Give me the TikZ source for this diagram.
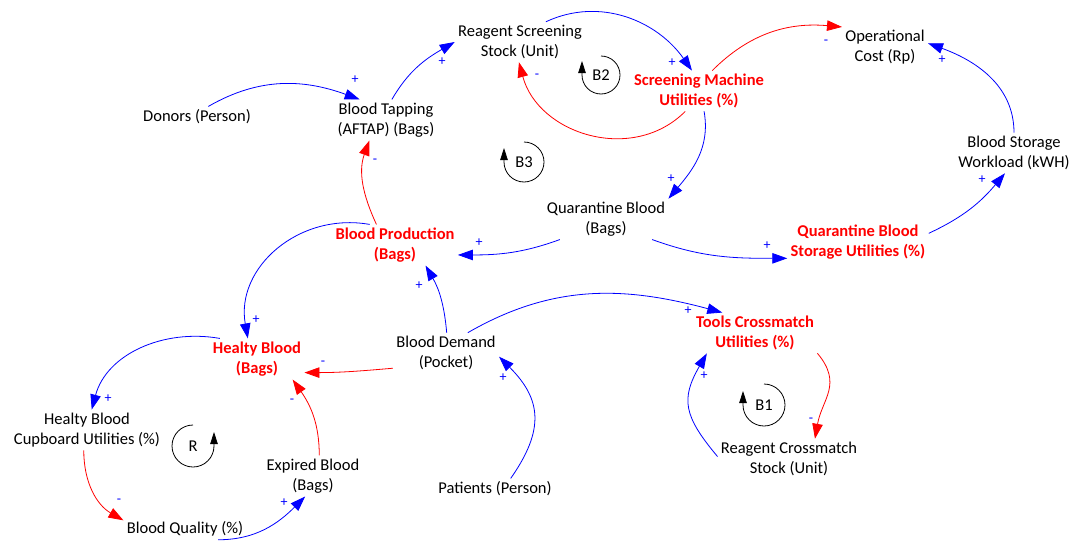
\documentclass[tikz,border=0pt]{standalone}
\usepackage{fontspec}
\setmainfont{Carlito}
\usetikzlibrary{arrows.meta}
\definecolor{cldblue}{RGB}{0,0,255}
\definecolor{cldred}{RGB}{255,0,0}

\begin{document}
\begin{tikzpicture}[x=1pt, y=1pt, line width=0.8pt,
  var/.style={align=center, inner sep=3pt, font=\fontsize{16.5}{20}\selectfont},
  keyvar/.style={var, text=cldred, font=\fontsize{16.5}{20}\selectfont\bfseries},
  lnkp/.style={draw=cldblue, -{Triangle[length=15pt,width=10.5pt]}},
  lnkn/.style={draw=cldred, -{Triangle[length=15pt,width=10.5pt]}},
  sgn/.style={text=cldblue, inner sep=0pt, font=\fontsize{14}{14}\selectfont},
  loopar/.style={draw=black, -{Triangle[length=12pt,width=7.5pt]}}]

\useasboundingbox (0,0) rectangle (1072,-541);

\node[var] (rss) at (520,-42) {Reagent Screening\\Stock (Unit)};
\node[var] (opc) at (885,-47) {Operational\\Cost (Rp)};
\node[keyvar] (sm) at (699,-91) {Screening Machine\\Utilities (\%)};
\node[var] (donor) at (197,-117) {Donors (Person)};
\node[var] (tap) at (386,-120) {Blood Tapping\\(AFTAP) (Bags)};
\node[var] (bsw) at (1014,-153) {Blood Storage\\Workload (kWH)};
\node[var] (qb) at (606,-219) {Quarantine Blood\\(Bags)};
\node[keyvar] (qbsu) at (858,-242) {Quarantine Blood\\Storage Utilities (\%)};
\node[keyvar] (bp) at (395,-245) {Blood Production\\(Bags)};
\node[keyvar] (tcu) at (755,-333) {Tools Crossmatch\\Utilities (\%)};
\node[keyvar] (hb) at (257,-359) {Healty Blood\\(Bags)};
\node[var] (bd) at (446,-353) {Blood Demand\\(Pocket)};
\node[var] (hbc) at (87,-430) {Healty Blood\\Cupboard Utilities (\%)};
\node[var] (rcs) at (789,-459) {Reagent Crossmatch\\Stock (Unit)};
\node[var] (eb) at (313,-476) {Expired Blood\\(Bags)};
\node[var] (pat) at (495,-489) {Patients (Person)};
\node[var] (bq) at (185,-529) {Blood Quality (\%)};

% loops
\node[var] (b2) at (601,-75) {B2};
\draw[loopar] (b2.center) ++(0,19) arc[start angle=90, end angle=-180, radius=19] -- ++(0,14);
\node[var] (b3) at (524,-162) {B3};
\draw[loopar] (b3.center) ++(0,20) arc[start angle=90, end angle=-180, radius=20] -- ++(0,14);
\node[var] (b1) at (764,-405) {B1};
\draw[loopar] (b1.center) ++(0,21) arc[start angle=90, end angle=-180, radius=21] -- ++(0,14);
\node[var] (rl) at (193,-446) {R};
\draw[loopar] (rl.center) ++(0,21) arc[start angle=90, end angle=360, radius=21] -- ++(0,14);

\draw[lnkp] (donor.43) to[out=30, in=160] (tap.142);
\draw[lnkp] (tap.74) to[out=60, in=210] (rss.180);
\draw[lnkp] (rss.38) to[out=25, in=125] (sm.109);
\draw[lnkn] (sm.236) to[out=225, in=285, looseness=1.1] (rss.267);
\draw[lnkn] (sm.57) to[out=45, in=175] (opc.155);
\draw[lnkp] (bsw.90) to[out=90, in=-20] (opc.5);
\draw[lnkp] (qbsu.7) to[out=25, in=230] (bsw.246);
\draw[lnkp] (sm.284) to[out=-80, in=50] (qb.18);
\draw[lnkp] (qb.336) to[out=-20, in=180] (qbsu.193);
\draw[lnkp] (qb.204) to[out=200, in=0] (bp.351);
\draw[lnkn] (bp.132) to[out=115, in=250] (tap.231);
\draw[lnkp] (bp.141) to[out=170, in=100, looseness=1.1] (hb.114);
\draw[lnkp] (bd.88) to[out=95, in=300] (bp.326);
\draw[lnkp] (bd.43) to[out=30, in=165] (tcu.148);
\draw[lnkn] (bd.196) to[out=185, in=0] (hb.344);
\draw[lnkn] (eb.73) to[out=90, in=305] (hb.330);
\draw[lnkp] (hb.151) to[out=170, in=75] (hbc.77);
\draw[lnkn] (hbc.261) to[out=-90, in=150] (bq.172);
\draw[lnkp] (bq.342) to[out=0, in=225] (eb.249);
\draw[lnkp] (pat.34) to[out=55, in=-45, looseness=1.25] (bd.356);
\draw[lnkn] (tcu.342) to[out=-50, in=80, looseness=1.2] (rcs.38);
\draw[lnkp] (rcs.178) to[out=130, in=240, looseness=1.3] (tcu.203);

% polarity
\node[sgn] (s1) at (355,-80) {+};
\node[sgn] (s2) at (442,-62) {+};
\node[sgn] (s3) at (672,-63) {+};
\node[sgn] (s4) at (537,-76) {-};
\node[sgn] (s5) at (826,-42) {-};
\node[sgn] (s6) at (942,-60) {+};
\node[sgn] (s7) at (982,-180) {+};
\node[sgn] (s8) at (671,-179) {+};
\node[sgn] (s9) at (767,-246) {+};
\node[sgn] (s10) at (479,-243) {+};
\node[sgn] (s11) at (375,-161) {-};
\node[sgn] (s12) at (256,-320) {+};
\node[sgn] (s13) at (419,-286) {+};
\node[sgn] (s14) at (688,-311) {+};
\node[sgn] (s15) at (323,-363) {-};
\node[sgn] (s16) at (292,-401) {-};
\node[sgn] (s17) at (108,-399) {+};
\node[sgn] (s18) at (119,-501) {-};
\node[sgn] (s19) at (284,-503) {+};
\node[sgn] (s20) at (503,-378) {+};
\node[sgn] (s21) at (811,-420) {-};
\node[sgn] (s22) at (704,-376) {+};
\end{tikzpicture}
\end{document}
